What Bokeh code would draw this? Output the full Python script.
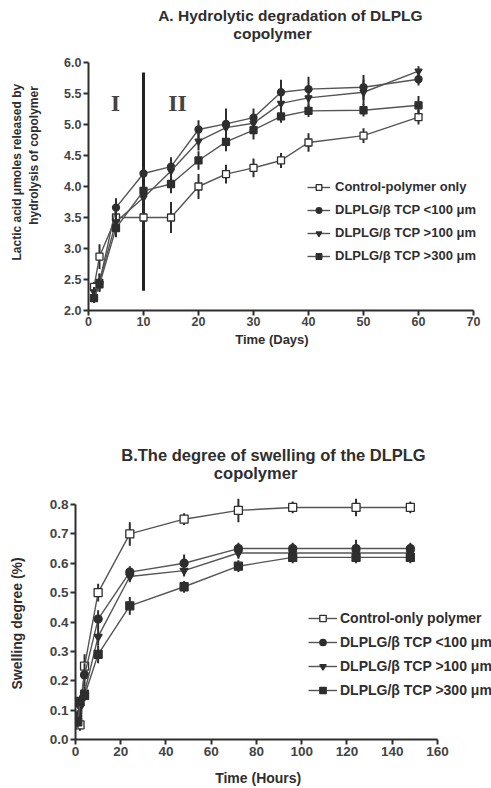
from bokeh.plotting import figure
from bokeh.models import Label, Legend, LegendItem, Range1d, PrintfTickFormatter, FixedTicker
from bokeh.embed import file_html
from bokeh.resources import INLINE

# ---------------- data: panel A ----------------
days = [1, 2, 5, 10, 15, 20, 25, 30, 35, 40, 50, 60]
a_ctrl = [2.38, 2.87, 3.50, 3.50, 3.50, 4.00, 4.20, 4.30, 4.42, 4.71, 4.82, 5.12]
a_c100 = [2.20, 2.45, 3.66, 4.21, 4.32, 4.92, 5.01, 5.11, 5.52, 5.57, 5.60, 5.73]
a_t100 = [2.30, 2.47, 3.43, 3.82, 4.25, 4.73, 4.95, 5.02, 5.34, 5.43, 5.52, 5.86]
a_s300 = [2.20, 2.42, 3.33, 3.93, 4.04, 4.42, 4.72, 4.91, 5.13, 5.22, 5.23, 5.31]
a_ctrl_err = [0.08, 0.20, 0.15, 0.20, 0.25, 0.20, 0.15, 0.15, 0.12, 0.15, 0.12, 0.12]
a_c100_err = [0.08, 0.15, 0.15, 0.10, 0.15, 0.15, 0.25, 0.15, 0.20, 0.20, 0.20, 0.10]
a_t100_err = [0.08, 0.12, 0.15, 0.10, 0.20, 0.15, 0.20, 0.15, 0.15, 0.15, 0.20, 0.08]
a_s300_err = [0.08, 0.10, 0.15, 0.10, 0.15, 0.15, 0.15, 0.15, 0.10, 0.10, 0.10, 0.15]
a_divider_x = [10]
a_divider_y = [2.32, 5.84]
a_xticks = [0, 10, 20, 30, 40, 50, 60, 70]
a_yticks = [2.0, 2.5, 3.0, 3.5, 4.0, 4.5, 5.0, 5.5, 6.0]

# ---------------- data: panel B ----------------
hours = [1, 2, 4, 10, 24, 48, 72, 96, 124, 148]
b_ctrl = [0.10, 0.05, 0.25, 0.50, 0.70, 0.75, 0.78, 0.79, 0.79, 0.79]
b_c100 = [0.08, 0.12, 0.22, 0.41, 0.57, 0.60, 0.65, 0.65, 0.65, 0.65]
b_t100 = [0.07, 0.11, 0.16, 0.35, 0.555, 0.575, 0.635, 0.635, 0.635, 0.635]
b_s300 = [0.06, 0.13, 0.15, 0.29, 0.455, 0.52, 0.59, 0.62, 0.62, 0.62]
b_ctrl_err = [0.02, 0.02, 0.04, 0.03, 0.04, 0.02, 0.04, 0.02, 0.03, 0.02]
b_c100_err = [0.02, 0.02, 0.04, 0.03, 0.02, 0.03, 0.02, 0.02, 0.03, 0.02]
b_t100_err = [0.02, 0.02, 0.02, 0.03, 0.02, 0.02, 0.02, 0.02, 0.02, 0.02]
b_s300_err = [0.02, 0.02, 0.02, 0.03, 0.03, 0.02, 0.02, 0.02, 0.02, 0.02]
b_xticks = [0, 20, 40, 60, 80, 100, 120, 140, 160]
b_yticks = [0.0, 0.1, 0.2, 0.3, 0.4, 0.5, 0.6, 0.7, 0.8]

legend_a = ["Control-polymer only", "DLPLG/\u03b2 TCP <100 \u03bcm",
            "DLPLG/\u03b2 TCP >100 \u03bcm", "DLPLG/\u03b2 TCP >300 \u03bcm"]
legend_b = ["Control-only polymer", "DLPLG/\u03b2 TCP <100 \u03bcm",
            "DLPLG/\u03b2 TCP >100 \u03bcm", "DLPLG/\u03b2 TCP >300 \u03bcm"]

INK = "#2e2e2e"
LINE = "#555555"
FONT = "Liberation Sans"
NB = "\u00a0"
markers = [("square", "white"), ("circle", INK), ("inverted_triangle", INK), ("square", INK)]


def style(p, xticks, yticks, xb, yb, tick_size):
    p.xgrid.visible = False
    p.ygrid.visible = False
    p.outline_line_color = None
    p.background_fill_color = "white"
    p.border_fill_color = "white"
    for ax in (p.xaxis[0], p.yaxis[0]):
        ax.axis_line_width = 2
        ax.axis_line_color = INK
        ax.major_tick_line_color = INK
        ax.major_tick_line_width = 2
        ax.major_tick_out = 5
        ax.major_tick_in = 0
        ax.minor_tick_line_color = None
        ax.major_label_text_font = FONT
        ax.major_label_text_font_style = "bold"
        ax.major_label_text_font_size = tick_size
        ax.major_label_text_color = "#444444"
        ax.axis_label_text_font = FONT
        ax.axis_label_text_color = INK
        ax.axis_label_text_font_style = "bold"
    p.xaxis[0].ticker = FixedTicker(ticks=xticks)
    p.yaxis[0].ticker = FixedTicker(ticks=yticks)
    p.yaxis[0].formatter = PrintfTickFormatter(format="%.1f")
    p.xaxis[0].bounds = xb
    p.yaxis[0].bounds = yb


def series(p, xs, ys, errs, mk, fill, size):
    p.segment(x0=xs, y0=[y - e for y, e in zip(ys, errs)], x1=xs,
              y1=[y + e for y, e in zip(ys, errs)], line_color=INK, line_width=2)
    lr = p.line(xs, ys, line_color=LINE, line_width=1.4)
    sr = p.scatter(xs, ys, marker=mk, size=size, fill_color=fill, line_color=INK, line_width=1.3)
    return [lr, sr]


def lab(p, text, x, y, size="12px", style_="bold", font=FONT, color=INK):
    p.add_layout(Label(x=x, y=y, text=text, text_font=font, text_font_size=size,
                       text_font_style=style_, text_color=color, text_align="center",
                       text_baseline="middle"))


# ---------------- panel A ----------------
HA = 394
pa = figure(width=491, height=HA, output_backend="svg", toolbar_location=None,
            x_range=Range1d(0, 73.27), y_range=Range1d(2, 7.0),
            min_border_left=88, min_border_right=0, min_border_top=0,
            min_border_bottom=HA - 310)
style(pa, a_xticks, a_yticks, (0, 70), (2, 6), "12.5px")
pa.xaxis[0].major_label_standoff = 1
pa.xaxis[0].axis_label = "Time (Days)" + NB * 10
pa.xaxis[0].axis_label_standoff = 3
pa.xaxis[0].axis_label_text_font_size = "13px"
pa.yaxis[0].major_label_standoff = 2
pa.yaxis[0].axis_label = ("Lactic acid  \u03bcmoles released by" + NB * 9 +
                          "\nhydrolysis of copolymer")
pa.yaxis[0].axis_label_standoff = 20
pa.yaxis[0].axis_label_text_font_size = "12px"

pa.segment(x0=a_divider_x, y0=[a_divider_y[0]], x1=a_divider_x, y1=[a_divider_y[1]],
           line_color="#222222", line_width=3)
items = []
for name, ys, errs, (mk, fill) in zip(legend_a, [a_ctrl, a_c100, a_t100, a_s300],
                                      [a_ctrl_err, a_c100_err, a_t100_err, a_s300_err], markers):
    items.append(LegendItem(label=name, renderers=series(pa, days, ys, errs, mk, fill, 7)))
lab(pa, "I", 4.9, 5.35, size="24px", font="Liberation Serif", color="#444444")
lab(pa, "II", 16.2, 5.35, size="24px", font="Liberation Serif", color="#444444")
leg_a = Legend(items=items, location=(219, 47), padding=0, margin=0, spacing=8,
               glyph_height=14, glyph_width=23, label_height=14, label_standoff=5,
               label_text_font=FONT, label_text_font_style="bold", label_text_font_size="13px",
               label_text_color=INK, background_fill_alpha=0, border_line_alpha=0)
pa.add_layout(leg_a)
lab(pa, "A. Hydrolytic degradation of DLPLG", 36.7, 6.758, size="15.5px")
lab(pa, "copolymer", 33.45, 6.468, size="15.5px")

# ---------------- panel B ----------------
HB = 394
pb = figure(width=491, height=HB, output_backend="svg", toolbar_location=None,
            x_range=Range1d(0, 183.87), y_range=Range1d(0, 1.1745),
            min_border_left=75, min_border_right=0, min_border_top=0,
            min_border_bottom=HB - 345)
style(pb, b_xticks, b_yticks, (0, 160), (0, 0.8), "13.5px")
pb.xaxis[0].major_label_standoff = 2
pb.xaxis[0].axis_label = "Time (Hours)" + NB * 13
pb.xaxis[0].axis_label_standoff = 11
pb.xaxis[0].axis_label_text_font_size = "14px"
pb.yaxis[0].major_label_standoff = 2
pb.yaxis[0].axis_label = "Swelling degree (%)" + NB * 29
pb.yaxis[0].axis_label_standoff = 22
pb.yaxis[0].axis_label_text_font_size = "14px"
items = []
for name, ys, errs, (mk, fill) in zip(legend_b, [b_ctrl, b_c100, b_t100, b_s300],
                                      [b_ctrl_err, b_c100_err, b_t100_err, b_s300_err], markers):
    items.append(LegendItem(label=name, renderers=series(pb, hours, ys, errs, mk, fill, 8)))
leg_b = Legend(items=items, location=(233, 41), padding=0, margin=0, spacing=8,
               glyph_height=16, glyph_width=29, label_height=16, label_standoff=3,
               label_text_font=FONT, label_text_font_style="bold", label_text_font_size="14px",
               label_text_color=INK, background_fill_alpha=0, border_line_alpha=0)
pb.add_layout(leg_b)
lab(pb, "B.The degree of swelling of the DLPLG", 87.5, 0.970, size="16.5px")
lab(pb, "copolymer", 79.6, 0.906, size="16.5px")

open("out.html", "w").write(file_html([pa, pb], INLINE))
